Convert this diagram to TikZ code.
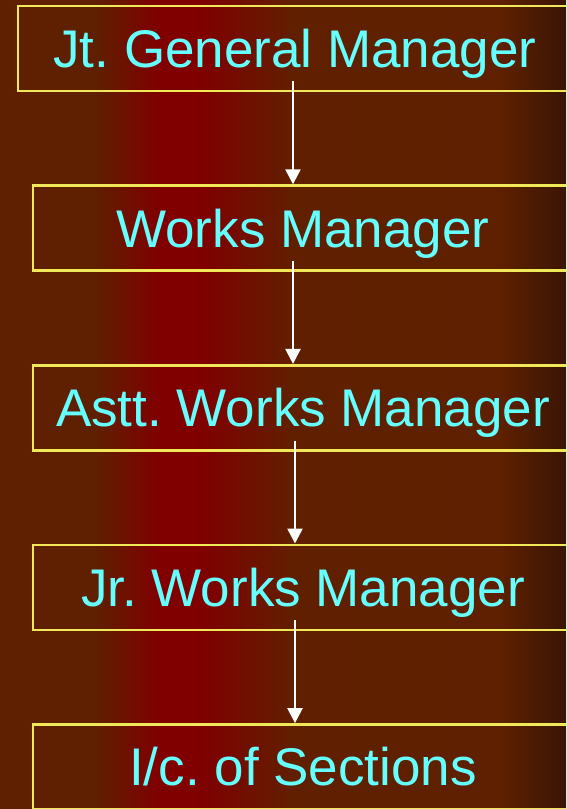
\documentclass[tikz,border=0pt]{standalone}
\usepackage{fontspec}
\setmainfont{Liberation Sans}
\frenchspacing
\usetikzlibrary{positioning,arrows.meta}
\definecolor{BgBrown}{HTML}{5E2000}
\definecolor{BgRed}{HTML}{800000}
\definecolor{BgMid}{HTML}{602000}
\definecolor{BgDark}{HTML}{3A1505}
\definecolor{BoxYellow}{HTML}{F0E858}
\definecolor{PostCyan}{HTML}{66FFFF}
\tikzset{
	post/.style={
		draw=BoxYellow,line width=2.6pt,minimum width=540pt,minimum height=85pt,
		text height=38pt,text depth=0pt,text=PostCyan,
		font=\fontsize{53}{60}\selectfont},
	down/.style={
		draw=white,line width=2.4pt,-{Triangle[width=15pt,length=15pt]}}
}

\begin{document}
\begin{tikzpicture}[x=1pt,y=1pt]
	% background
	\clip (0,0) rectangle (566,-809);
	\fill[BgBrown] (0,0) rectangle (96,-809);
	\fill[left color=BgBrown,right color=BgRed] (95,0) rectangle (159,-809);
	\fill[BgRed] (158,0) rectangle (201,-809);
	\fill[left color=BgRed,right color=BgMid] (200,0) rectangle (296,-809);
	\fill[left color=BgMid,right color=BgBrown] (295,0) rectangle (501,-809);
	\fill[left color=BgBrown,right color=BgDark] (500,0) rectangle (566,-809);
	% posts
	\node[post,minimum width=554pt] (jgm) at (295,-48.5) {Jt. General Manager};
	\node[post,below=92pt of jgm,xshift=8pt] (wm) {Works Manager};
	\node[post,below=92pt of wm] (awm) {Astt. Works Manager};
	\node[post,below=92pt of awm] (jwm) {Jr. Works Manager};
	\node[post,below=92pt of jwm] (ics) {I/c. of Sections};
	% arrows
	\draw[down] ([xshift=-2pt,yshift=11pt]jgm.south) -- ([xshift=-10pt]wm.north);
	\draw[down] ([xshift=-10pt,yshift=11pt]wm.south) -- ([xshift=-10pt]awm.north);
	\draw[down] ([xshift=-8pt,yshift=11pt]awm.south) -- ([xshift=-8pt]jwm.north);
	\draw[down] ([xshift=-8pt,yshift=11pt]jwm.south) -- ([xshift=-8pt]ics.north);
\end{tikzpicture}
\end{document}
